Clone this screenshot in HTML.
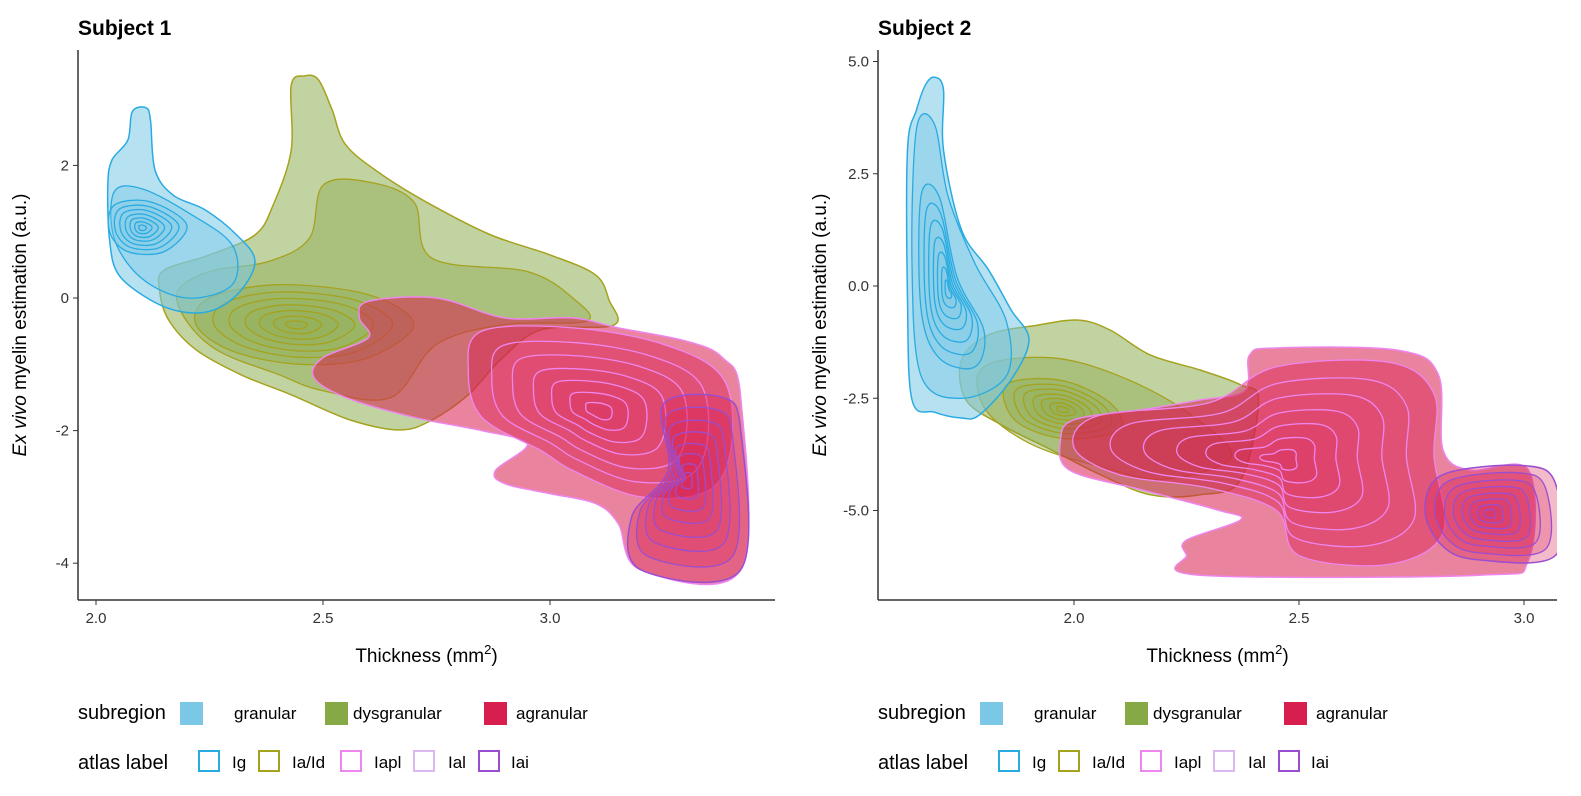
<!DOCTYPE html>
<html><head><meta charset="utf-8">
<style>
body{margin:0;background:#fff;width:1581px;height:791px;overflow:hidden;font-family:"Liberation Sans",Arial,sans-serif;}
svg text{font-family:"Liberation Sans",Arial,sans-serif;}
</style></head>
<body>
<svg id="chart" width="1581" height="791" xmlns="http://www.w3.org/2000/svg">
<g id="p1"></g>
<g id="p2"></g>
<g id="legends"></g>
</svg>
<script>
// ---------- data (data coordinates) ----------
const p1XTicks = [2.0, 2.5, 3.0];
const p1YTicks = [2, 0, -2, -4];
const p1YTickLabels = ["2", "0", "-2", "-4"];
const p2XTicks = [2.0, 2.5, 3.0];
const p2YTicks = [5, 2.5, 0, -2.5, -5];
const p2YTickLabels = ["5.0", "2.5", "0.0", "-2.5", "-5.0"];

const p1GranOuter = [[2.026,1.70],[2.035,2.08],[2.07,2.38],[2.08,2.81],[2.11,2.87],[2.12,2.68],[2.13,1.93],[2.17,1.55],[2.24,1.33],[2.31,0.95],[2.35,0.57],[2.32,0.12],[2.26,-0.18],[2.19,-0.21],[2.12,-0.03],[2.05,0.35],[2.03,0.87]];
const p1GranInner = [[2.04,1.6],[2.1,1.65],[2.2,1.3],[2.3,0.8],[2.3,0.2],[2.2,0.0],[2.1,0.3],[2.04,0.9]];
const p1GranCore = [[2.04,1.4],[2.12,1.45],[2.2,1.1],[2.15,0.7],[2.07,0.7],[2.03,1.0]];
const p1DysOuter = [[2.43,2.23],[2.43,3.21],[2.46,3.35],[2.49,3.29],[2.52,2.84],[2.55,2.31],[2.63,1.86],[2.74,1.40],[2.87,0.95],[3.0,0.65],[3.10,0.35],[3.13,-0.03],[3.14,-0.41],[2.98,-0.48],[2.89,-0.94],[2.82,-1.46],[2.74,-1.84],[2.67,-1.99],[2.56,-1.84],[2.43,-1.46],[2.32,-1.16],[2.22,-0.78],[2.16,-0.33],[2.14,0.12],[2.15,0.42],[2.25,0.65],[2.35,0.95],[2.39,1.40]];
const p1DysInner = [[2.5,1.7],[2.6,1.75],[2.7,1.45],[2.74,0.6],[2.95,0.4],[3.05,0.0],[3.08,-0.35],[2.9,-0.4],[2.75,-0.7],[2.65,-1.5],[2.5,-1.4],[2.4,-1.15],[2.27,-0.8],[2.2,-0.35],[2.18,0.1],[2.25,0.4],[2.38,0.55],[2.47,0.9]];
const p1DysCore = [[2.25,0.0],[2.4,0.2],[2.6,0.05],[2.7,-0.4],[2.6,-0.9],[2.45,-1.0],[2.3,-0.8],[2.22,-0.4]];
const p1AgrOuter = [[2.6,-0.05],[2.75,0.0],[2.9,-0.3],[3.05,-0.3],[3.15,-0.45],[3.3,-0.65],[3.38,-0.9],[3.42,-1.5],[3.42,-4.1],[3.2,-4.1],[3.15,-3.4],[3.1,-3.1],[3.0,-2.95],[2.9,-2.8],[2.88,-2.6],[2.95,-2.2],[2.85,-2.0],[2.7,-1.8],[2.55,-1.5],[2.48,-1.2],[2.5,-0.9],[2.6,-0.6],[2.58,-0.3]];
const p1AgrInner = [[2.85,-0.5],[3.05,-0.45],[3.25,-0.7],[3.38,-1.2],[3.4,-2.2],[3.35,-2.9],[3.2,-3.0],[3.05,-2.6],[2.98,-2.3],[2.85,-1.8],[2.82,-1.1]];
const p1IaiOuter = [[3.25,-1.6],[3.38,-1.5],[3.42,-2.0],[3.42,-4.1],[3.2,-4.1],[3.18,-3.3],[3.26,-2.6]];

const p2GranOuter = [[1.63,3.03],[1.65,3.92],[1.67,4.48],[1.69,4.65],[1.71,4.37],[1.71,3.03],[1.75,1.25],[1.81,0.36],[1.86,-0.53],[1.90,-1.20],[1.86,-2.09],[1.79,-2.87],[1.75,-2.94],[1.69,-2.81],[1.64,-2.54],[1.63,-0.31]];
const p2GranInner = [[1.65,3.5],[1.69,3.6],[1.72,2.0],[1.78,0.5],[1.85,-0.8],[1.85,-2.0],[1.75,-2.5],[1.66,-2.0],[1.64,0.5]];
const p2GranCore = [[1.66,2.0],[1.7,2.0],[1.74,0.2],[1.8,-1.0],[1.78,-1.8],[1.7,-1.6],[1.66,-0.5]];
const p2DysOuter = [[1.75,-1.65],[1.81,-1.09],[1.92,-0.87],[2.01,-0.76],[2.08,-0.98],[2.17,-1.54],[2.28,-1.87],[2.37,-2.2],[2.41,-2.54],[2.37,-4.32],[2.28,-4.65],[2.17,-4.65],[2.06,-4.21],[1.95,-3.65],[1.84,-3.10],[1.76,-2.54]];
const p2DysInner = [[1.8,-1.8],[1.95,-1.6],[2.1,-2.0],[2.25,-2.8],[2.35,-3.8],[2.2,-4.3],[2.05,-4.0],[1.9,-3.5],[1.8,-2.7]];
const p2DysCore = [[1.85,-2.2],[1.97,-2.1],[2.08,-2.6],[2.1,-3.2],[1.98,-3.4],[1.87,-3.0]];
const p2AgrOuter = [[2.39,-1.54],[2.45,-1.38],[2.72,-1.43],[2.81,-1.98],[2.82,-3.65],[2.88,-4.10],[3.01,-4.10],[3.01,-6.10],[2.90,-6.44],[2.28,-6.44],[2.25,-5.99],[2.25,-5.66],[2.37,-5.21],[2.32,-4.99],[2.15,-4.54],[1.99,-4.10],[1.97,-3.43],[2.0,-2.98],[2.15,-2.76],[2.28,-2.54],[2.38,-2.32]];
const p2AgrInner = [[2.05,-2.9],[2.3,-2.6],[2.45,-1.8],[2.7,-1.7],[2.8,-2.4],[2.8,-3.8],[2.82,-5.5],[2.7,-6.2],[2.5,-6.0],[2.45,-5.0],[2.3,-4.5],[2.1,-4.2],[2.0,-3.6]];
const p2IaiOuter = [[2.82,-4.2],[3.0,-4.0],[3.07,-4.4],[3.07,-6.0],[2.9,-6.1],[2.82,-5.8],[2.78,-5.0]];

const ringLevels = [0.82, 0.66, 0.5, 0.36, 0.22, 0.1];

// ---------- helpers ----------
const NS = "http://www.w3.org/2000/svg";
function mk(tag, attrs, parent){const e=document.createElementNS(NS,tag);for(const k in attrs)e.setAttribute(k,attrs[k]);parent.appendChild(e);return e;}
function smooth(pts){
  const n=pts.length;let d=`M${pts[0][0]},${pts[0][1]}`;
  for(let i=0;i<n;i++){const p0=pts[(i-1+n)%n],p1=pts[i],p2=pts[(i+1)%n],p3=pts[(i+2)%n];
    const c1=[p1[0]+(p2[0]-p0[0])/6,p1[1]+(p2[1]-p0[1])/6],c2=[p2[0]-(p3[0]-p1[0])/6,p2[1]-(p3[1]-p1[1])/6];
    d+=`C${c1[0].toFixed(1)},${c1[1].toFixed(1)} ${c2[0].toFixed(1)},${c2[1].toFixed(1)} ${p2[0].toFixed(1)},${p2[1].toFixed(1)}`;}
  return d+"Z";
}
function scaleRing(pts,f){let cx=0,cy=0;pts.forEach(p=>{cx+=p[0];cy+=p[1];});cx/=pts.length;cy/=pts.length;
  return pts.map(p=>[cx+(p[0]-cx)*f,cy+(p[1]-cy)*f]);}

function panel(g, cfg){
  const sx=v=>cfg.x0+(v-cfg.xv0)*cfg.xs, sy=v=>cfg.y0-(v)*cfg.ys;
  const P=a=>a.map(p=>[sx(p[0]),sy(p[1])]);
  const clip=mk("clipPath",{id:cfg.id+"clip"},g);
  mk("rect",{x:cfg.left,y:50,width:cfg.right-cfg.left,height:cfg.bottom-50},clip);
  const plot=mk("g",{"clip-path":`url(#${cfg.id}clip)`},g);
  
  
  function blob(name,outer,inner,core,fill,stroke,op){
    const e1=mk("path",{d:smooth(P(outer)),fill:fill,"fill-opacity":op,stroke:stroke,"stroke-width":1.5},plot);
    
    
    const e2=mk("path",{d:smooth(P(inner)),fill:fill,"fill-opacity":op*0.8,stroke:stroke,"stroke-width":1.3},plot);
    
    
    if(core){const e3=mk("path",{d:smooth(P(core)),fill:fill,"fill-opacity":op*0.6,stroke:stroke,"stroke-width":1.3},plot);
      
      }
    const base=core||inner;
    ringLevels.forEach(f=>{const r=mk("path",{d:smooth(P(scaleRing(base,f))),fill:fill,"fill-opacity":0.08,stroke:stroke,"stroke-width":1.3},plot);
      
      });
  }
  blob("dysgranular",cfg.dysO,cfg.dysI,cfg.dysC,"#86a845","#a5a21e",0.5);
  blob("granular",cfg.granO,cfg.granI,cfg.granC,"#7ac8e6","#29abe2",0.55);
  blob("agranular",cfg.agrO,cfg.agrI,null,"#d81e4e","#ee86ee",0.55);
  blob("agranular-iai",cfg.iai,scaleRing(cfg.iai,0.85),null,"#d81e4e","#9b4dd0",0.3);
  // axes
  const ax=mk("line",{x1:cfg.left,y1:cfg.bottom,x2:cfg.right,y2:cfg.bottom,stroke:"#333","stroke-width":1.5},g);
  
  const ay=mk("line",{x1:cfg.left,y1:50,x2:cfg.left,y2:cfg.bottom,stroke:"#333","stroke-width":1.5},g);
  
  cfg.xt.forEach(v=>{mk("line",{x1:sx(v),x2:sx(v),y1:cfg.bottom,y2:cfg.bottom+5,stroke:"#333"},g);
    const t=mk("text",{x:sx(v),y:cfg.bottom+23,"text-anchor":"middle","font-size":15,fill:"#333"},g);t.textContent=v.toFixed(1);
    });
  cfg.yt.forEach((v,i)=>{mk("line",{x1:cfg.left-5,x2:cfg.left,y1:sy(v),y2:sy(v),stroke:"#333"},g);
    const t=mk("text",{x:cfg.left-9,y:sy(v)+5,"text-anchor":"end","font-size":15,fill:"#333"},g);t.textContent=cfg.ytl[i];
    });
  const title=mk("text",{x:cfg.left,y:35,"font-size":21,"font-weight":"bold",fill:"#000"},g);title.textContent=cfg.title;
  
  const xl=mk("text",{x:(cfg.left+cfg.right)/2,y:662,"text-anchor":"middle","font-size":19,fill:"#000"},g);
  xl.innerHTML='Thickness (mm<tspan dy="-8" font-size="13">2</tspan><tspan dy="8">)</tspan>';
  
  const yl=mk("text",{transform:`translate(${cfg.left-52},${(50+cfg.bottom)/2}) rotate(-90)`,"text-anchor":"middle","font-size":19,fill:"#000"},g);
  yl.innerHTML='<tspan font-style="italic">Ex vivo</tspan> myelin estimation (a.u.)';
  
}
panel(document.getElementById("p1"),{id:"a",title:"Subject 1",left:78,right:775,bottom:600,x0:96,xv0:2.0,xs:454,y0:298,ys:66.3,
  xt:p1XTicks,yt:p1YTicks,ytl:p1YTickLabels,granO:p1GranOuter,granI:p1GranInner,granC:p1GranCore,dysO:p1DysOuter,dysI:p1DysInner,dysC:p1DysCore,agrO:p1AgrOuter,agrI:p1AgrInner,iai:p1IaiOuter});
panel(document.getElementById("p2"),{id:"b",title:"Subject 2",left:878,right:1557,bottom:600,x0:1074,xv0:2.0,xs:450,y0:286,ys:44.9,
  xt:p2XTicks,yt:p2YTicks,ytl:p2YTickLabels,granO:p2GranOuter,granI:p2GranInner,granC:p2GranCore,dysO:p2DysOuter,dysI:p2DysInner,dysC:p2DysCore,agrO:p2AgrOuter,agrI:p2AgrInner,iai:p2IaiOuter});

// ---------- legends ----------
const subNames=["granular","dysgranular","agranular"];
const subColors=["#7ac8e6","#86a845","#d81e4e"];
const atlasNames=["Ig","Ia/Id","Iapl","Ial","Iai"];
const atlasColors=["#29abe2","#a5a21e","#ee86ee","#dcb8f0","#9b4dd0"];
const L=document.getElementById("legends");
[78,878].forEach(ox=>{
  let t=mk("text",{x:ox,y:719,"font-size":20,fill:"#000"},L);t.textContent="subregion";
  
  const sxs=[180,325,484], lxs=[234,353,516];
  subNames.forEach((n,i)=>{
    const r=mk("rect",{x:ox-78+sxs[i],y:702,width:23,height:23,fill:subColors[i]},L);
    
    const tx=mk("text",{x:ox-78+lxs[i],y:719,"font-size":17,fill:"#000"},L);tx.textContent=n;
    });
  t=mk("text",{x:ox,y:769,"font-size":20,fill:"#000"},L);t.textContent="atlas label";
  
  const bxs=[198,258,340,413,478], alx=[232,292,374,448,511];
  atlasNames.forEach((n,i)=>{
    const r=mk("rect",{x:ox-78+bxs[i]+1,y:751,width:20,height:20,fill:"#fff",stroke:atlasColors[i],"stroke-width":2},L);
    
    const tx=mk("text",{x:ox-78+alx[i],y:768,"font-size":17,fill:"#000"},L);tx.textContent=n;
    });
});
</script>
</body></html>
